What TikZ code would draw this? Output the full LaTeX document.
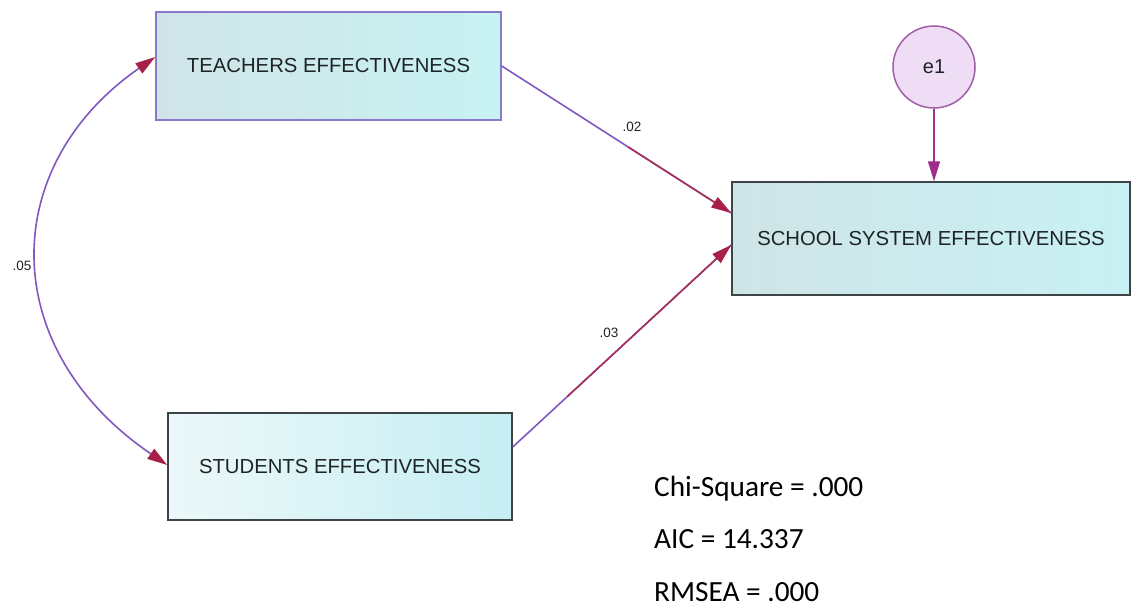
\documentclass[tikz,border=0pt]{standalone}
\usepackage{fontspec}
\setmainfont{Liberation Sans}
\newfontfamily\statfont{Carlito}
\usetikzlibrary{arrows.meta,calc}
\definecolor{txtcol}{HTML}{1E2426}
\definecolor{tA}{HTML}{D0E4E8}
\definecolor{tB}{HTML}{C8F2F2}
\definecolor{sA}{HTML}{ECF8F9}
\definecolor{sB}{HTML}{C6EEF3}
\definecolor{cA}{HTML}{CFE4E6}
\definecolor{cB}{HTML}{C8F1F5}
\definecolor{tborder}{HTML}{8A78CC}
\definecolor{gborder}{HTML}{3C4446}
\definecolor{eborder}{HTML}{A060A8}
\definecolor{efill}{HTML}{EEDDF5}
\definecolor{linepurple}{HTML}{8058C0}
\definecolor{linered}{HTML}{A8305A}
\definecolor{tipred}{HTML}{A82048}
\definecolor{emag}{HTML}{A02C8C}
\begin{document}
\begin{tikzpicture}[x=1pt,y=-1pt,
  obsbox/.style={rectangle, line width=1.5pt, text=txtcol, inner sep=0pt,
    font=\fontsize{20.3}{23}\selectfont},
  errcirc/.style={circle, draw=eborder, fill=efill, line width=1.5pt, text=txtcol,
    minimum size=82pt, inner sep=0pt, font=\fontsize{20}{23}\selectfont},
  pathline/.style={line width=1.6pt},
  tipA/.style={-{Triangle[length=20pt,width=12pt,color=tipred]}},
  coefl/.style={text=txtcol, font=\fontsize{13.5}{15}\selectfont, inner sep=0pt},
  statl/.style={anchor=base west, inner sep=0pt, font=\statfont\fontsize{29.3}{32}\selectfont}
]
\useasboundingbox[fill=white] (0,0) rectangle (1132,607);

\node[obsbox, draw=tborder, left color=tA, right color=tB,
      minimum width=345pt, minimum height=108pt] (t) at (328.5,66) {TEACHERS EFFECTIVENESS};
\node[obsbox, draw=gborder, left color=sA, right color=sB,
      minimum width=344pt, minimum height=107pt] (st) at (340,466.5) {STUDENTS EFFECTIVENESS};
\node[obsbox, draw=gborder, left color=cA, right color=cB,
      minimum width=398pt, minimum height=113pt] (sc) at (931,238.5) {SCHOOL SYSTEM EFFECTIVENESS};
\node[errcirc] (e) at (934,67) {e1};

% attachment points on the box borders
\coordinate (tout) at (t.east);
\coordinate (tin) at ([yshift=9pt]t.west);
\coordinate (sout) at ([yshift=19.5pt]st.east);
\coordinate (sin) at ([yshift=1.5pt]st.west);
\coordinate (cin1) at ([yshift=25.5pt]sc.west);
\coordinate (cin2) at ([yshift=-6.5pt]sc.west);

% teachers -> school
\draw[pathline, linepurple] (tout) -- (cin1);
\draw[pathline, linered, tipA] ($(tout)!0.55!(cin1)$) -- (cin1);
% students -> school
\draw[pathline, linepurple] (sout) -- (cin2);
\draw[pathline, linered, tipA] ($(sout)!0.25!(cin2)$) -- (cin2);
% e1 -> school
\draw[pathline, emag, -{Triangle[length=20pt,width=12pt,color=emag]}] (e.south) -- (e.south |- sc.north);
% covariance
\draw[pathline, linepurple, {Triangle[length=20pt,width=12pt,color=tipred]}-{Triangle[length=20pt,width=12pt,color=tipred]}]
  (tin) .. controls (-3,167) and (-3,349) .. (sin);

\node[coefl] (l05) at (22,266) {.05};
\node[coefl] (l02) at (632,127) {.02};
\node[coefl] (l03) at (609,333) {.03};

\node[statl] (chi) at (654,496) {Chi-Square = .000};
\node[statl] (aic) at (654,548) {AIC = 14.337};
\node[statl] (rmsea) at (654,601) {RMSEA = .000};
\end{tikzpicture}
\end{document}
